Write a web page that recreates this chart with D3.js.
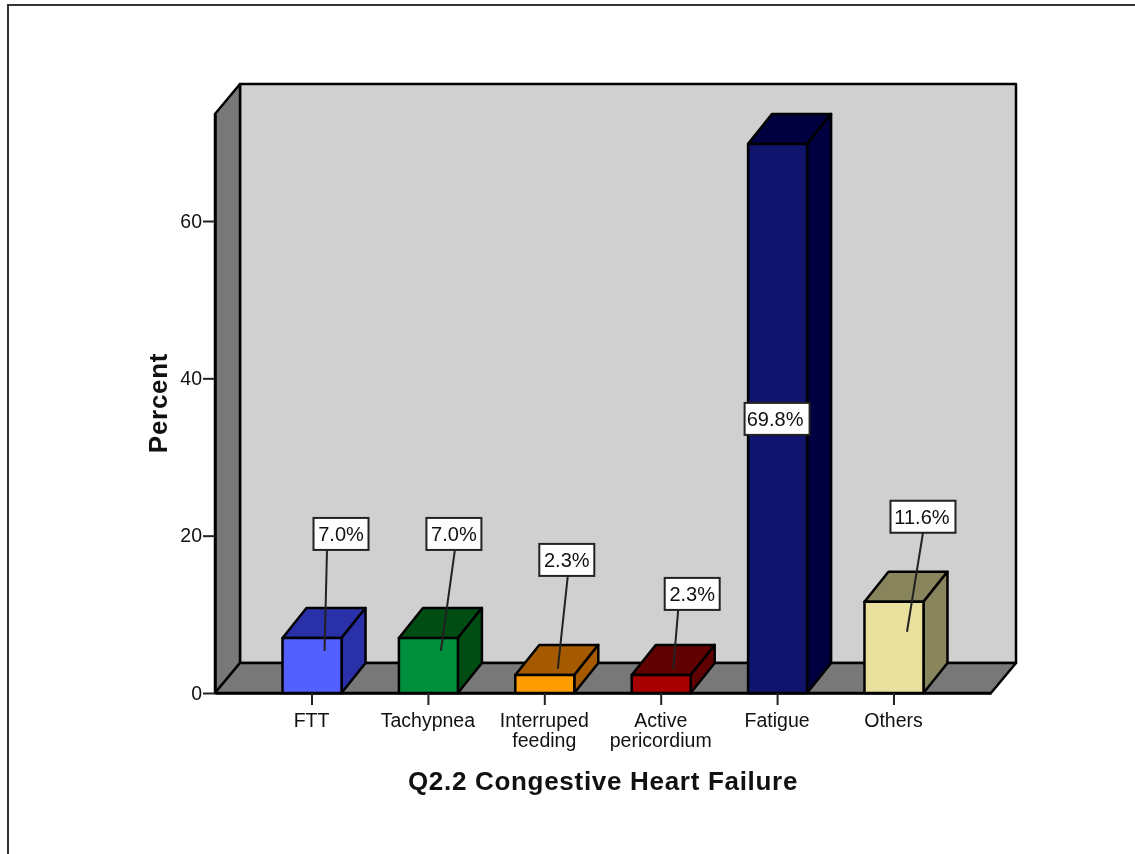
<!DOCTYPE html>
<html>
<head>
<meta charset="utf-8">
<script src="https://cdn.jsdelivr.net/npm/d3@7"></script>
<style>
  html, body { margin: 0; padding: 0; background: #fff; }
  svg { display: block; filter: blur(0.45px); }
  text { font-family: "Liberation Sans", Arial, sans-serif; fill: #111; }
</style>
</head>
<body>
<div class="d3-container"></div>
<script>
// values
const categories = ["FTT", "Tachypnea", "Interruped feeding", "Active pericordium", "Fatigue", "Others"];
const percents = [7.0, 7.0, 2.3, 2.3, 69.8, 11.6];
const yTicks = [0, 20, 40, 60];
const frontColors = ["#5360ff", "#008f3c", "#ff9c00", "#a80000", "#10146c", "#e8e09c"];
const sideColors = ["#2a30a8", "#004d14", "#a55a00", "#600000", "#000040", "#88845c"];

// callout layout: box middle relative to the middle of the bar front and top of the bar
const calloutDx = [29, 25.5, 22, 31, -0.5, 29];
const calloutDy = [-104, -104, -115, -81, 275, -85];
const calloutW = [55, 55, 55, 55, 65, 65];
const calloutTextDx = [0, 0, 0, 0, -2, -1];
const leaderStartDx = [-14, 1, 1, -14, 0, 0];
const leaderTipDx = [12.5, 12.5, 13, 12, 0, 13];
const leaderTipDy = [13, 13, -6, -6, 0, 30];
const hasLeader = [true, true, true, true, false, true];

const width = 1135;
const height = 854;
const margin = {top: 114, bottom: 161, left: 215, right: 144};
const depth = {x: 25, y: 30};
const barDepth = {x: 24, y: 30};

const svg = d3.select(".d3-container")
  .append("svg")
  .attr("width", width)
  .attr("height", height)
  .attr("viewBox", [0, 0, width, height]);

// outer frame, runs off the right and bottom of the image
svg.append("path")
  .attr("d", `M8,${height}V5H${width}`)
  .attr("fill", "none")
  .attr("stroke", "#333")
  .attr("stroke-width", 2);

const x = d3.scaleBand()
  .domain(categories)
  .range([margin.left, width - margin.right])
  .paddingInner(0.493)
  .paddingOuter(0.58);

const y = d3.scaleLinear()
  .domain([0, 73.6])
  .range([height - margin.bottom, margin.top]);

const x0 = x.range()[0], x1 = x.range()[1];
const y0 = y(0), yTop = y.range()[1];

const poly = pts => "M" + pts.map(p => p.join(",")).join("L") + "Z";
const walls = svg.append("g").attr("stroke", "#000").attr("stroke-width", 2.5).attr("stroke-linejoin", "round");

// back wall
walls.append("path")
  .attr("d", poly([[x0 + depth.x, yTop - depth.y], [x1 + depth.x, yTop - depth.y], [x1 + depth.x, y0 - depth.y], [x0 + depth.x, y0 - depth.y]]))
  .attr("fill", "#d0d0d0");
// side wall
walls.append("path")
  .attr("d", poly([[x0, yTop], [x0 + depth.x, yTop - depth.y], [x0 + depth.x, y0 - depth.y], [x0, y0]]))
  .attr("fill", "#787878");
// floor
walls.append("path")
  .attr("d", poly([[x0, y0], [x0 + depth.x, y0 - depth.y], [x1 + depth.x, y0 - depth.y], [x1, y0]]))
  .attr("fill", "#787878");

// bars, a front, a top and a side face each
const bars = svg.append("g")
  .attr("stroke", "#000")
  .attr("stroke-width", 2.5)
  .attr("stroke-linejoin", "round")
  .selectAll("g")
  .data(categories)
  .join("g");

const left = d => x(d);
const right = d => x(d) + x.bandwidth();
const mid = d => x(d) + x.bandwidth() / 2;
const barTop = i => y(percents[i]);

bars.append("path")
  .attr("d", (d, i) => poly([[left(d), barTop(i)], [left(d) + barDepth.x, barTop(i) - barDepth.y], [right(d) + barDepth.x, barTop(i) - barDepth.y], [right(d), barTop(i)]]))
  .attr("fill", (d, i) => sideColors[i]);
bars.append("path")
  .attr("d", (d, i) => poly([[right(d), barTop(i)], [right(d) + barDepth.x, barTop(i) - barDepth.y], [right(d) + barDepth.x, y0 - barDepth.y], [right(d), y0]]))
  .attr("fill", (d, i) => sideColors[i]);
bars.append("rect")
  .attr("x", d => left(d))
  .attr("y", (d, i) => barTop(i))
  .attr("width", x.bandwidth())
  .attr("height", (d, i) => y0 - barTop(i))
  .attr("fill", (d, i) => frontColors[i]);

// axes
const yAxis = svg.append("g")
  .attr("transform", `translate(${x0},0)`)
  .call(d3.axisLeft(y).tickValues(yTicks).tickFormat(d3.format("d")).tickSize(12).tickSizeOuter(0).tickPadding(1));
const xAxis = svg.append("g")
  .attr("transform", `translate(0,${y0})`)
  .call(d3.axisBottom(x).tickSize(12).tickSizeOuter(0).tickFormat(""));

[yAxis, xAxis].forEach(a => {
  a.selectAll("line").attr("stroke", "#222").attr("stroke-width", 2);
  a.selectAll(".domain").attr("stroke", "#000").attr("stroke-width", 2.5);
});
yAxis.selectAll("text").attr("font-size", 19.5).attr("font-family", "Liberation Sans").attr("fill", "#111");

// category labels, wrapped onto two lines
svg.append("g")
  .selectAll("text")
  .data(categories)
  .join("text")
  .attr("text-anchor", "middle")
  .attr("font-size", 19.5)
  .each(function(d) {
    d3.select(this).selectAll("tspan")
      .data(d.split(" "))
      .join("tspan")
      .attr("x", mid(d) - 0.5)
      .attr("y", (w, j) => y0 + 34 + j * 20)
      .text(w => w);
  });

// axis titles
svg.append("text")
  .attr("x", 603)
  .attr("y", 790)
  .attr("text-anchor", "middle")
  .attr("font-size", 26)
  .attr("letter-spacing", 0.7)
  .attr("font-weight", "bold")
  .text("Q2.2 Congestive Heart Failure");

svg.append("text")
  .attr("transform", "translate(167,403)rotate(-90)")
  .attr("text-anchor", "middle")
  .attr("font-size", 26)
  .attr("letter-spacing", 0.7)
  .attr("font-weight", "bold")
  .text("Percent");

// callouts
const callouts = svg.append("g")
  .selectAll("g")
  .data(categories)
  .join("g");

const boxH = 32;
const labelX = (d, i) => mid(d) + calloutDx[i];
const labelY = i => barTop(i) + calloutDy[i];

callouts.filter((d, i) => hasLeader[i])
  .append("line")
  .attr("x1", d => { const i = categories.indexOf(d); return labelX(d, i) + leaderStartDx[i]; })
  .attr("y1", d => labelY(categories.indexOf(d)) + boxH / 2)
  .attr("x2", d => mid(d) + leaderTipDx[categories.indexOf(d)])
  .attr("y2", d => { const i = categories.indexOf(d); return barTop(i) + leaderTipDy[i]; })
  .attr("stroke", "#222")
  .attr("stroke-width", 2);

callouts.append("rect")
  .attr("x", (d, i) => labelX(d, i) - calloutW[i] / 2)
  .attr("y", (d, i) => labelY(i) - boxH / 2)
  .attr("width", (d, i) => calloutW[i])
  .attr("height", boxH)
  .attr("fill", "#fff")
  .attr("stroke", "#222")
  .attr("stroke-width", 2);

callouts.append("text")
  .attr("x", (d, i) => labelX(d, i) + calloutTextDx[i])
  .attr("y", (d, i) => labelY(i) + 7)
  .attr("text-anchor", "middle")
  .attr("font-size", 20)
  .text((d, i) => percents[i].toFixed(1) + "%");
</script>
</body>
</html>
